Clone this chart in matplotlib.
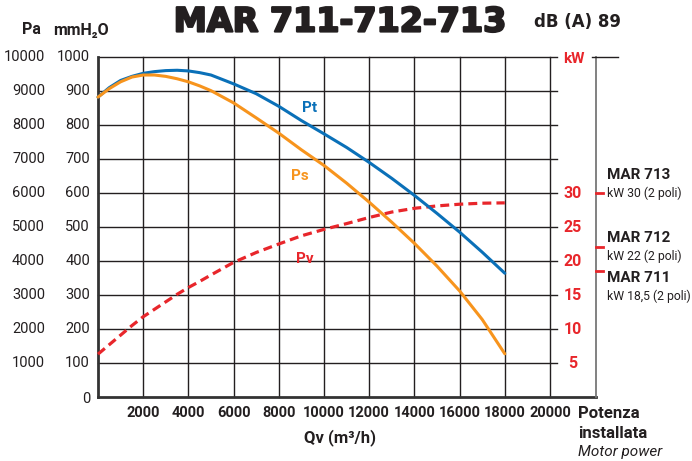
import matplotlib
matplotlib.use("Agg")
import matplotlib.pyplot as plt
import matplotlib.patheffects as pe
from matplotlib import font_manager

# ----------------------------------------------------------------------------
# Data (Qv in m3/h, pressures in mmH2O, power in kW)
# ----------------------------------------------------------------------------
qv = [0, 500, 1000, 1500, 2000, 2500, 3000, 3500, 4000, 4500, 5000,
      6000, 7000, 8000, 9000, 10000, 11000, 12000, 13000, 14000, 15000,
      16000, 17000, 18000]
pt = [882, 910, 931, 943, 952, 957, 960, 961, 959, 954, 947,
      921, 892, 855, 813, 774, 734, 690, 643, 593, 540,
      485, 426, 364]
ps = [882, 907, 927, 941, 947, 947, 943, 936, 927, 915, 901,
      865, 821, 776, 727, 681, 629, 573, 514, 452, 385,
      312, 228, 127]
pv_kw = [6.3, 7.7, 9.1, 10.5, 11.8, 12.9, 14.0, 15.1, 16.1, 17.0, 17.95,
         19.8, 21.25, 22.5, 23.7, 24.65, 25.5, 26.4, 27.2, 27.75, 28.1,
         28.35, 28.5, 28.55]

x_ticks = list(range(2000, 20001, 2000))
mm_ticks = list(range(0, 1001, 100))
pa_ticks = list(range(1000, 10001, 1000))
kw_ticks = [5, 10, 15, 20, 25, 30]
motors = ["MAR 713", "MAR 712", "MAR 711"]
motor_kw = [30, 22, 18.5]
motor_txt = ["kW 30 (2 poli)", "kW 22 (2 poli)", "kW 18,5 (2 poli)"]

BLUE = "#0a70b8"
ORANGE = "#f7941d"
RED = "#e8262b"
INK = "#231f20"

names = {f.name for f in font_manager.fontManager.ttflist}
NARROW = ["Liberation Sans Narrow", "DejaVu Sans"] if "Liberation Sans Narrow" in names \
    else ["Roboto", "DejaVu Sans"]

W, H = 692, 461
fig = plt.figure(figsize=(W / 100, H / 100), dpi=100)
ax = fig.add_axes([98 / W, 64 / H, 452 / W, 340 / H])
ax.set_xlim(0, 20000)
ax.set_ylim(0, 1000)
ax.axis("off")


def ftext(px, py, s, **kw):
    kw.setdefault("family", NARROW)
    kw.setdefault("color", INK)
    return fig.text(px / W, 1 - py / H, s, **kw)


KW2MM = 20.0   # kW axis: 5 kW per 100 mmH2O
X_TICK_END = 20330
X_RIGHT = 22030

# grid
for x in x_ticks:
    ax.plot([x, x], [0, 1000], color=INK, lw=1.0, clip_on=False, zorder=1)
for y in mm_ticks[1:]:
    ax.plot([0, X_TICK_END], [y, y], color=INK, lw=1.0, clip_on=False, zorder=1)
# frame
ax.plot([0, 0], [0, 1000], color="#333333", lw=2.0, clip_on=False, zorder=2)
ax.plot([0, X_RIGHT], [0, 0], color="#333333", lw=2.0, clip_on=False, zorder=2)
ax.plot([X_RIGHT, X_RIGHT], [0, 1000], color="#777777", lw=1.3, clip_on=False, zorder=2)
ax.plot([21850, 23000], [1000, 1000], color=INK, lw=1.0, clip_on=False, zorder=2)

# curves
ax.plot(qv, pt, color=BLUE, lw=2.2, solid_capstyle="round", solid_joinstyle="round",
        zorder=4, clip_on=False)
ax.plot(qv, ps, color=ORANGE, lw=2.2, solid_capstyle="round", solid_joinstyle="round",
        zorder=4, clip_on=False)
ax.plot(qv, [k * KW2MM for k in pv_kw], color=RED, lw=2.3, dashes=(2.8, 1.6),
        zorder=3, clip_on=False)

ax.text(9030, 838, "Pt", color=BLUE, fontsize=11, weight="bold", family=NARROW)
ax.text(8540, 638, "Ps", color=ORANGE, fontsize=11, weight="bold", family=NARROW)
ax.text(8760, 394, "Pv", color=RED, fontsize=11, weight="bold", family=NARROW)

# motor power markers
for k in motor_kw:
    ax.plot([X_RIGHT, 22340], [k * KW2MM] * 2, color=RED, lw=2.0, clip_on=False, zorder=3)

# left tick labels
for v in pa_ticks:
    py = 397 - v / 10 * 0.34
    ftext(45, py, str(v), fontsize=10.5, ha="right", va="center")
for v in mm_ticks:
    py = 397 - v * 0.34
    ftext(90, py + (2 if v == 0 else 0), str(v), fontsize=10.5, ha="right", va="center")

# right kW tick labels
for k in kw_ticks:
    py = 397 - k * KW2MM * 0.34
    ftext(573, py, str(k), fontsize=11.5, weight="bold", color=RED, ha="center", va="center")
ftext(574, 59, "kW", fontsize=11, weight="bold", color=RED, ha="center", va="center")

# x tick labels
for x in x_ticks:
    px = 98 + x / 20000 * 452
    ftext(px, 413, str(x), fontsize=10.5, weight="bold", ha="center", va="center")

# motor labels
for name, txt, py in zip(motors, motor_txt, [175, 238, 278]):
    ftext(607, py, name, fontsize=11, weight="bold", ha="left", va="center")
    ftext(607, py + 18, txt, fontsize=8.8, ha="left", va="center")

# headers
title = ftext(340, 22, "MAR 711-712-713", fontsize=24, weight="heavy", ha="center",
              va="center", family=["DejaVu Sans"])
title.set_path_effects([pe.withStroke(linewidth=1.6, foreground=INK)])
ftext(578, 22, "dB (A) 89", fontsize=12, weight="bold", ha="center", va="center",
      family=["DejaVu Sans"])
ftext(31, 30, "Pa", fontsize=11.5, weight="bold", ha="center", va="center")
ftext(81, 30, "mmH\u2082O", fontsize=11.5, weight="bold", ha="center", va="center")
ftext(340, 438, "Qv (m\u00b3/h)", fontsize=12, weight="bold", ha="center", va="center")
ftext(578, 413, "Potenza", fontsize=12, weight="bold", ha="left", va="center")
ftext(578, 433, "installata", fontsize=12, weight="bold", ha="left", va="center")
ftext(578, 452, "Motor power", fontsize=11, style="italic", ha="left", va="center")

fig.savefig("out.png", dpi=100)
